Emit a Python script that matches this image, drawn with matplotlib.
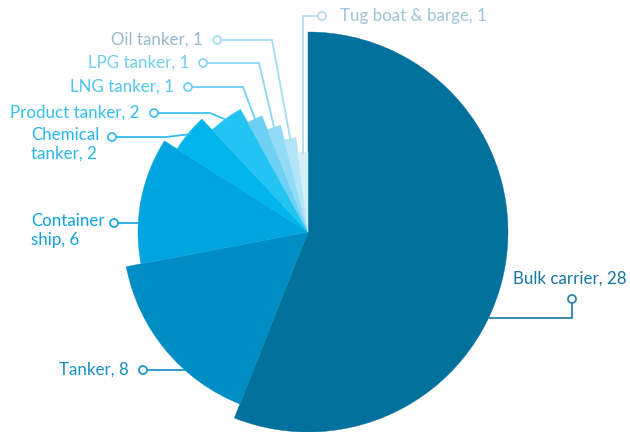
import numpy as np
import matplotlib
matplotlib.use("Agg")
import matplotlib.pyplot as plt
from matplotlib.patches import Wedge, Circle

# Fleet by ship type
ship_types = ["Bulk carrier", "Tanker", "Container\nship", "Chemical\ntanker",
              "Product tanker", "LNG tanker", "LPG tanker", "Oil tanker",
              "Tug boat & barge"]
counts = [28, 8, 6, 2, 2, 1, 1, 1, 1]

slice_colors = ["#00709c", "#008dc4", "#00a5e0", "#00b5ec", "#24c4f2",
                "#6dd0f4", "#92dbf6", "#b3e5f8", "#d3effa"]
text_colors = ["#1377a2", "#1590c6", "#0fa3de", "#25b5ea", "#30c0ef",
               "#52c5ee", "#70cdef", "#93bbcf", "#9cc3d6"]
line_colors = ["#2a84ab", "#2096c9", "#1fa8e0", "#35bbec", "#40c5f0",
               "#6fd0f2", "#8bd7f3", "#a6ddf2", "#b6dcec"]

W, H = 630, 432
fig = plt.figure(figsize=(W / 100, H / 100), dpi=100)
ax = fig.add_axes([0, 0, 1, 1])
ax.set_xlim(0, W)
ax.set_ylim(H, 0)
ax.set_aspect("equal")
ax.axis("off")

cx, cy = 308, 232
r_max = 200
total = sum(counts)

# angles measured clockwise from 12 o'clock; y axis is flipped so
# wedge theta grows clockwise on screen
starts = np.cumsum([0] + counts[:-1]) / total * 360
spans = np.array(counts) / total * 360
radii = [r_max * (1 - 0.075 * i) for i in range(len(counts))]

for s, sp, r, c in zip(starts, spans, radii, slice_colors):
    ax.add_patch(Wedge((cx, cy), r, -90 + s, -90 + s + sp, facecolor=c,
                       edgecolor=c, linewidth=0.3))


def on_arc(i, y, side):
    r = radii[i]
    return cx + side * np.sqrt(r ** 2 - (y - cy) ** 2), y


def mid_point(i):
    a = np.deg2rad(-90 + starts[i] + spans[i] / 2)
    r = radii[i] * 0.99
    return cx + r * np.cos(a), cy + r * np.sin(a)


# label layout: marker position, elbow, text side
markers = [(572, 299), (143, 370), (114, 223), (112, 137), (154, 113),
           (188, 87), (203, 63), (217, 40), (322, 16)]
elbows = [(572, 318), None, None, (166, 137), (210, 113),
          (243, 87), (259, 63), (272, 40), None]

font = dict(family=["Lato", "DejaVu Sans"], fontsize=12.2)

for i, (name, n) in enumerate(zip(ship_types, counts)):
    mx, my = markers[i]
    if i == 0:
        end = on_arc(i, elbows[i][1], 1)
        pts = [(mx, my), elbows[i], end]
    elif i in (1, 2):
        end = on_arc(i, my, -1)
        pts = [(mx, my), end]
    elif i == len(counts) - 1:
        end = mid_point(i)
        pts = [(mx, my), (end[0], my), end]
    else:
        end = mid_point(i)
        pts = [(mx, my), elbows[i], end]
    xs, ys = zip(*pts)
    ax.plot(xs, ys, color=line_colors[i], lw=1.3, solid_joinstyle="miter",
            zorder=3)
    ax.add_patch(Circle((mx, my), 4, facecolor="white",
                        edgecolor=line_colors[i], lw=1.3, zorder=4))

    label = f"{name}, {n}"
    if i == 0:
        ax.text(627, 279, label, color=text_colors[i], ha="right",
                va="center", **font)
    elif i == len(counts) - 1:
        ax.text(mx + 18, my, label, color=text_colors[i], ha="left",
                va="center", **font)
    elif "\n" in name:
        ax.text(31, my - 10, label, color=text_colors[i], ha="left",
                va="top", linespacing=1.2, **font)
    else:
        ax.text(mx - 14, my, label, color=text_colors[i], ha="right",
                va="center", **font)

fig.savefig("out.png", dpi=100)
